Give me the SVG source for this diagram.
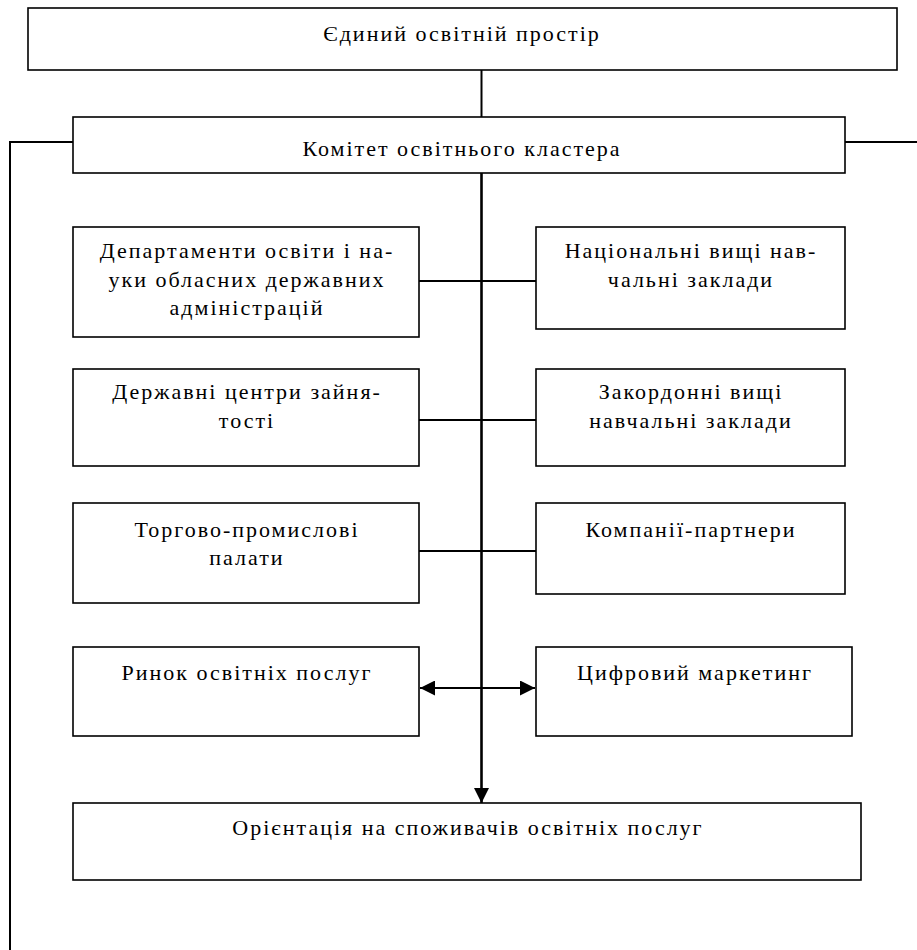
<svg xmlns="http://www.w3.org/2000/svg" width="917" height="950" viewBox="0 0 917 950">
<style>
.box{fill:#fff;stroke:#000;stroke-width:1.6}
.t{font-family:"Liberation Serif","Times New Roman",serif;font-size:22px;fill:#000;text-anchor:middle;letter-spacing:2px}
.c{fill:none;stroke:#000;stroke-width:2}
.m{fill:none;stroke:#000;stroke-width:2.6}
</style>
<defs>
<marker id="ah" viewBox="0 0 10 10" refX="10" refY="5" markerUnits="userSpaceOnUse" markerWidth="15" markerHeight="15" orient="auto-start-reverse">
<path d="M0,0 L10,5 L0,10 Z" fill="#000"/>
</marker>
</defs>
<rect width="917" height="950" fill="#fff"/>
<g id="connectors">
<line class="c" x1="481.5" y1="70" x2="481.5" y2="117"/>
<polyline class="c" points="73,142 10,142 10,950"/>
<line class="c" x1="845" y1="142" x2="917" y2="142"/>
<line class="c" x1="419" y1="281" x2="536" y2="281"/>
<line class="c" x1="419" y1="420" x2="536" y2="420"/>
<line class="c" x1="419" y1="551" x2="536" y2="551"/>
<line class="m" x1="481.5" y1="173" x2="481.5" y2="803" marker-end="url(#ah)"/>
<line class="c" x1="420" y1="688" x2="535" y2="688" marker-start="url(#ah)" marker-end="url(#ah)"/>
</g>
<g id="n-top"><rect class="box" x="28" y="8" width="869" height="62"/><text class="t" x="462" y="41">Єдиний освітній простір</text></g>
<g id="n-committee"><rect class="box" x="73" y="117" width="772" height="56"/><text class="t" x="462" y="156">Комітет освітнього кластера</text></g>
<g id="n-dep"><rect class="box" x="73" y="227" width="346" height="110"/><text class="t" x="247" y="258">Департаменти освіти і на-</text><text class="t" x="247" y="287">уки обласних державних</text><text class="t" x="247" y="315">адміністрацій</text></g>
<g id="n-nat"><rect class="box" x="536" y="227" width="309" height="102"/><text class="t" x="691" y="258">Національні вищі нав-</text><text class="t" x="691" y="287">чальні заклади</text></g>
<g id="n-emp"><rect class="box" x="73" y="369" width="346" height="97"/><text class="t" x="247" y="399">Державні центри зайня-</text><text class="t" x="247" y="428">тості</text></g>
<g id="n-foreign"><rect class="box" x="536" y="369" width="309" height="97"/><text class="t" x="691" y="399">Закордонні вищі</text><text class="t" x="691" y="428">навчальні заклади</text></g>
<g id="n-chamber"><rect class="box" x="73" y="503" width="346" height="100"/><text class="t" x="247" y="537">Торгово-промислові</text><text class="t" x="247" y="565">палати</text></g>
<g id="n-partners"><rect class="box" x="536" y="503" width="309" height="91"/><text class="t" x="691" y="537">Компанії-партнери</text></g>
<g id="n-market"><rect class="box" x="73" y="647" width="346" height="89"/><text class="t" x="247" y="680">Ринок освітніх послуг</text></g>
<g id="n-digital"><rect class="box" x="536" y="647" width="316" height="89"/><text class="t" x="695" y="680">Цифровий маркетинг</text></g>
<g id="n-orient"><rect class="box" x="73" y="803" width="788" height="77"/><text class="t" x="468" y="835">Орієнтація на споживачів освітніх послуг</text></g>
</svg>
